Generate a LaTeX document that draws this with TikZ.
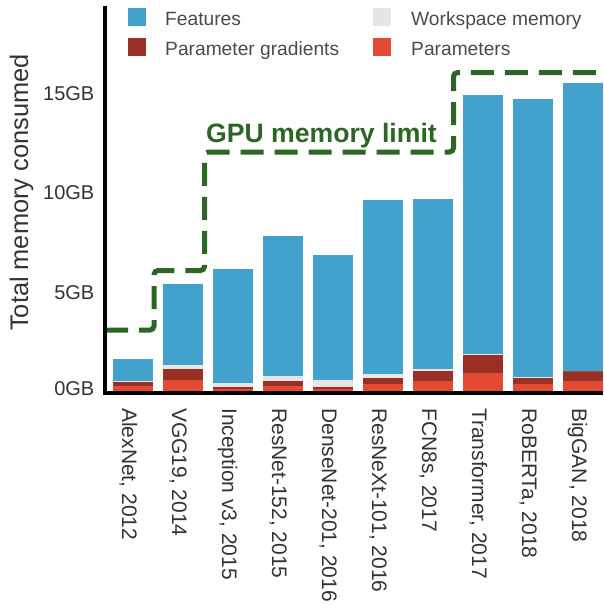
\documentclass[tikz,border=0pt]{standalone}
\usepackage{fontspec}
\setmainfont{Liberation Sans}
\usetikzlibrary{positioning}

\definecolor{featblue}{HTML}{43A2CB}
\definecolor{graddark}{HTML}{9A3025}
\definecolor{paramred}{HTML}{E34A33}
\definecolor{wsgray}{HTML}{E6E6E6}
\definecolor{limitgreen}{HTML}{2C6624}
\definecolor{axgray}{HTML}{333333}
\definecolor{leggray}{HTML}{4A4A4A}

\begin{document}
\begin{tikzpicture}[x=1pt, y=-1pt,
    ticklab/.style={font=\fontsize{20}{24}\selectfont, text=axgray, inner sep=0pt, anchor=base east},
    xlab/.style={font=\fontsize{21}{25}\selectfont, text=axgray, inner sep=0pt, rotate=-90, anchor=base west},
    legbox/.style={minimum size=18pt, inner sep=0pt},
    legtext/.style={font=\fontsize{19.2}{23}\selectfont, text=leggray, inner sep=0pt, anchor=base west},
    limit/.style={draw=limitgreen, line width=5pt, dash pattern=on 23pt off 11pt, rounded corners=4pt},
    spine/.style={line width=4.5pt, line join=miter}]

    \useasboundingbox (0,0) rectangle (603,605);

    % stacked bars: parameters / gradients / workspace / features (GB)
    \begin{scope}[shift={(133,392.5)}, x=50pt, y=20pt]
    \foreach \p/\g/\w/\f/\name [count=\i from 0] in {
        0.325/0.525/0.575/1.675/{AlexNet, 2012},
        0.625/1.175/1.375/5.425/{VGG19, 2014},
        0.19/0.275/0.475/6.175/{Inception v3, 2015},
        0.325/0.575/0.825/7.825/{ResNet-152, 2015},
        0.19/0.275/0.625/6.875/{DenseNet-201, 2016},
        0.425/0.725/0.925/9.625/{ResNeXt-101, 2016},
        0.575/1.075/1.175/9.675/{FCN8s, 2017},
        0.975/1.875/1.925/14.875/{Transformer, 2017},
        0.425/0.725/0.775/14.675/{RoBERTa, 2018},
        0.575/1.075/1.075/15.475/{BigGAN, 2018}}
    {
        \fill[paramred] (\i-0.4,0) rectangle (\i+0.4,\p);
        \fill[graddark] (\i-0.4,\p) rectangle (\i+0.4,\g);
        \fill[wsgray] (\i-0.4,\g) rectangle (\i+0.4,\w);
        \fill[featblue] (\i-0.4,\w) rectangle (\i+0.4,\f);
        \node[xlab] (lab\i) at (\i-0.22,-0.775) {\name};
    }
    \end{scope}

    % memory limit
    \draw[limit] (105,330) -- (154,330) -- (154,270.5) -- (204.5,270.5)
        -- (204.5,152) -- (453.5,152) -- (453.5,72.5) -- (603,72.5);
    \node[font=\bfseries\fontsize{26.6}{32}\selectfont, text=limitgreen, inner sep=0pt, anchor=base west]
        (limitlab) at (206,142) {GPU memory limit};

    % axes
    \draw[spine] (105,5.7) -- (105,393) -- (603,393);
    \foreach \v/\yy in {0/395,5/299.5,10/199.5,15/100}
        \node[ticklab] (tick\v) at (94.5,\yy) {\v GB};
    \node[font=\fontsize{25.4}{30}\selectfont, text=axgray, inner sep=0pt, rotate=90, anchor=base]
        (ylab) at (28,192.5) {Total memory consumed};

    % legend
    \node[legbox, fill=featblue] (legF) at (137,17) {};
    \node[legbox, fill=graddark] (legG) at (137,47) {};
    \node[legbox, fill=wsgray] (legW) at (382,17) {};
    \node[legbox, fill=paramred] (legP) at (382,47) {};
    \node[legtext] (legFt) at (165,25) {Features};
    \node[legtext] (legGt) at (165,55) {Parameter gradients};
    \node[legtext] (legWt) at (411,25) {Workspace memory};
    \node[legtext] (legPt) at (411,55) {Parameters};
\end{tikzpicture}
\end{document}
